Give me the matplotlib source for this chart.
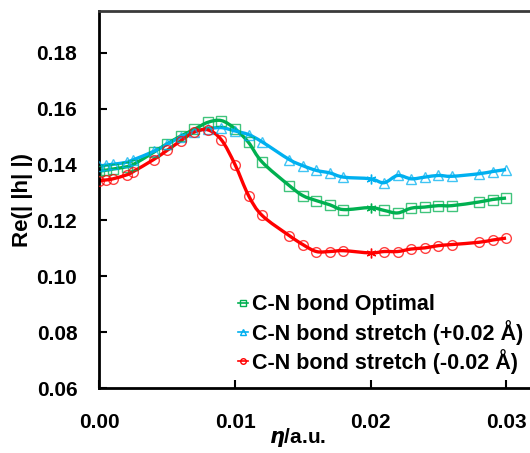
import numpy as np
import matplotlib
matplotlib.use("Agg")
import matplotlib.pyplot as plt
from matplotlib.path import Path
from matplotlib.patches import PathPatch
from matplotlib.lines import Line2D

plt.rcParams['font.family'] = ['Liberation Sans', 'DejaVu Sans']
plt.rcParams['font.weight'] = 'bold'

# eta values (a.u.)
eta = [0.0, 0.0005, 0.001, 0.002, 0.0025, 0.004, 0.005, 0.006, 0.007, 0.008,
       0.009, 0.010, 0.011, 0.012, 0.014, 0.015, 0.016, 0.017, 0.018, 0.020,
       0.021, 0.022, 0.023, 0.024, 0.025, 0.026, 0.028, 0.029, 0.030]

optimal = [0.1377, 0.1380, 0.1384, 0.1392, 0.1400, 0.1444, 0.1474, 0.1502, 0.1526, 0.1551,
           0.1557, 0.1528, 0.1479, 0.1409, 0.1325, 0.1289, 0.1271, 0.1256, 0.1239, 0.1246,
           0.1236, 0.1227, 0.1244, 0.1248, 0.1253, 0.1253, 0.1266, 0.1275, 0.1280]

stretch_plus = [0.1394, 0.1398, 0.1401, 0.1408, 0.1417, 0.1447, 0.1473, 0.1498, 0.1518, 0.1528,
                0.1532, 0.1520, 0.1507, 0.1481, 0.1418, 0.1396, 0.1379, 0.1370, 0.1355, 0.1349,
                0.1335, 0.1361, 0.1349, 0.1355, 0.1361, 0.1358, 0.1367, 0.1375, 0.1382]

stretch_minus = [0.1342, 0.1345, 0.1349, 0.1363, 0.1375, 0.1418, 0.1451, 0.1485, 0.1516, 0.1524,
                 0.1488, 0.1400, 0.1289, 0.1218, 0.1146, 0.1114, 0.1089, 0.1089, 0.1092, 0.1084,
                 0.1089, 0.1089, 0.1098, 0.1102, 0.1110, 0.1114, 0.1122, 0.1130, 0.1137]

labels = ['C-N bond Optimal', 'C-N bond stretch (+0.02 Å)', 'C-N bond stretch (-0.02 Å)']
star_eta = 0.020  # point drawn with an asterisk in the original

series = [
    (optimal, '#00B050', 's'),
    (stretch_plus, '#00B0F0', '^'),
    (stretch_minus, '#FF0000', 'o'),
]


def smooth_path(x, y):
    # Excel-like smoothed line: Catmull-Rom segments as cubic Bezier curves
    p = np.column_stack((x, y))
    verts = [p[0]]
    codes = [Path.MOVETO]
    n = len(p)
    for i in range(n - 1):
        p0 = p[i - 1] if i > 0 else p[i]
        p3 = p[i + 2] if i + 2 < n else p[i + 1]
        c1 = p[i] + (p[i + 1] - p0) / 6
        c2 = p[i + 1] - (p3 - p[i]) / 6
        verts += [c1, c2, p[i + 1]]
        codes += [Path.CURVE4] * 3
    return Path(verts, codes)


fig = plt.figure(figsize=(5.3, 4.53), dpi=100)
ax = fig.add_axes([0.1877, 0.1428, 0.8694, 0.8336])

x = np.array(eta)
is_star = np.isclose(x, star_eta)
handles = []
for vals, col, mk in series:
    y = np.array(vals)
    ax.add_patch(PathPatch(smooth_path(x, y), facecolor='none', edgecolor=col, lw=2.4, zorder=2))
    ax.plot(x[~is_star], y[~is_star], ls='none', marker=mk, ms=7, mfc='none',
            mec=col, mew=1.0, alpha=0.75, zorder=3)
    ax.plot(x[is_star], y[is_star], ls='none', marker=(6, 2, 0), ms=7,
            mec=col, mew=1.0, zorder=3)
    handles.append(Line2D([], [], color=col, lw=1.2, marker=mk, ms=4, mfc='none', mew=1.0))

ax.set_xlim(0, 0.034)
ax.set_ylim(0.06, 0.195)
ax.set_xticks([0.0, 0.01, 0.02, 0.03])
ax.set_xticklabels(['0.00', '0.01', '0.02', '0.03'])
ax.set_yticks(np.arange(0.06, 0.181, 0.02))
ax.set_yticklabels(['%.2f' % v for v in np.arange(0.06, 0.181, 0.02)])
ax.tick_params(direction='in', length=6, width=1.5, labelsize=15, pad=16)
ax.tick_params(axis='x', pad=18)
for lab in ax.get_xticklabels() + ax.get_yticklabels():
    lab.set_fontweight('bold')

ax.spines['right'].set_visible(False)
ax.spines['left'].set_linewidth(2)
ax.spines['bottom'].set_linewidth(2)
ax.spines['top'].set_linewidth(2)
ax.spines['top'].set_color('#3a3a3a')

ax.set_ylabel('Re(| |h| |)', fontsize=16, fontweight='bold')
ax.yaxis.set_label_coords(-0.145, 0.5)
ax.set_xlabel(r'$\mathbfit{\eta}$/a.u.', fontsize=15, fontweight='bold')
ax.xaxis.set_label_coords(0.43, -0.1)

ax.legend(handles, labels, loc='upper left', bbox_to_anchor=(0.30, 0.249),
          frameon=False, handlelength=0.5, handletextpad=0.15,
          labelspacing=0.2, borderaxespad=0, borderpad=0,
          prop={'weight': 'bold', 'size': 15.5})

fig.savefig('out.png', dpi=100)
